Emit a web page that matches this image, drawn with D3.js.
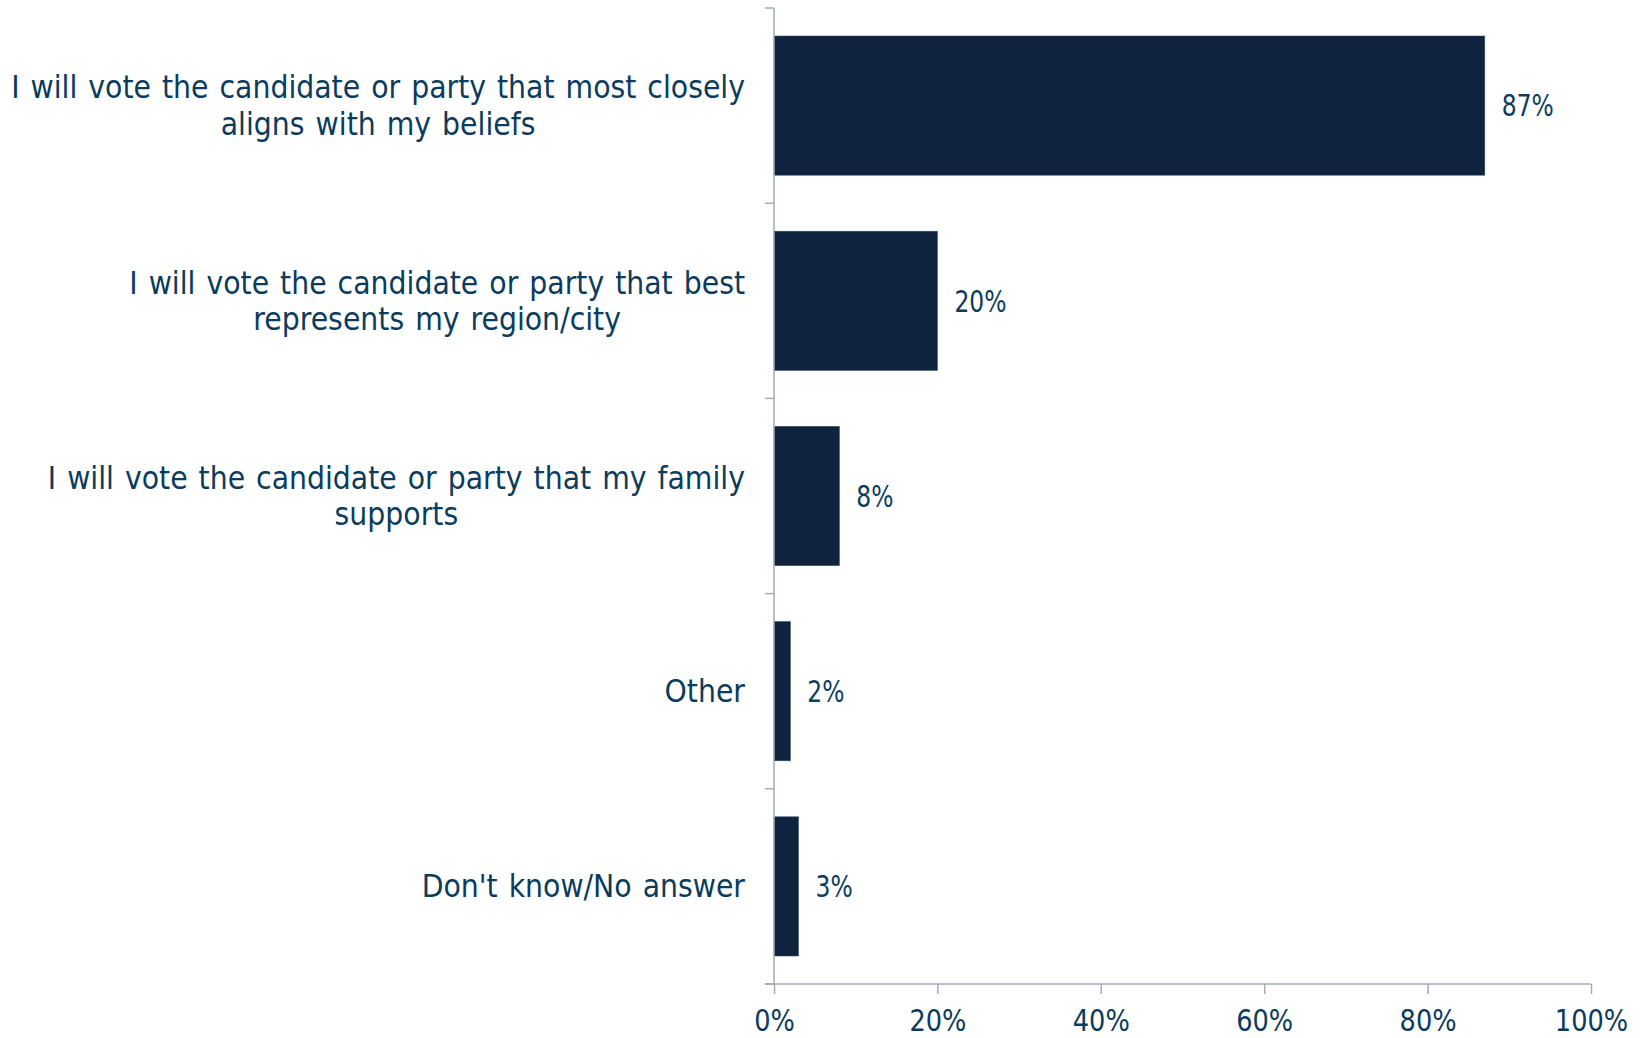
<!DOCTYPE html>
<html><head><meta charset="utf-8">
<script src="https://cdn.jsdelivr.net/npm/d3@7"></script>
<style>
html,body{margin:0;padding:0;background:#fff;}
svg{display:block;}
text{font-family:"DejaVu Sans Condensed","DejaVu Sans",sans-serif;fill:#0b3c5d;}
</style></head>
<body>
<svg id="chart" width="1642" height="1038"></svg>
<script>
const categories = [
  "I will vote the candidate or party that most closely\naligns with my beliefs",
  "I will vote the candidate or party that best\nrepresents my region/city",
  "I will vote the candidate or party that my family\nsupports",
  "Other",
  "Don't know/No answer"
];
const values = [87, 20, 8, 2, 3];
const xTicks = [0, 20, 40, 60, 80, 100];

const svg = d3.select("#chart");
const x = d3.scaleLinear().domain([0, 100]).range([774, 1591]);
const y = d3.scaleBand().domain(categories).range([8, 984]).paddingInner(0.287).paddingOuter(0.1435);
const axisColor = "#a3abb6";

// bars
svg.append("g").selectAll("rect").data(categories).join("rect")
  .attr("x", x(0))
  .attr("y", d => y(d))
  .attr("width", (d, i) => x(values[i]) - x(0))
  .attr("height", y.bandwidth())
  .attr("fill", "#0f233f")
  .attr("stroke", "#3a4c66").attr("stroke-width", 0.6);

// x axis
const xAxis = svg.append("g").attr("transform", `translate(0,${y.range()[1]})`)
  .call(d3.axisBottom(x).tickValues(xTicks).tickFormat(d => d + "%").tickSize(10).tickPadding(16).tickSizeOuter(0));
xAxis.select(".domain").remove();
xAxis.selectAll(".tick line").attr("stroke", axisColor).attr("stroke-width", 1.5);
xAxis.selectAll(".tick text").attr("font-size", 30).attr("font-family", null).attr("fill", "#0b3c5d")
  .attr("transform", "scale(0.95,1)");
svg.append("line").attr("x1", x(0) - 9).attr("x2", x(100)).attr("y1", y.range()[1]).attr("y2", y.range()[1])
  .attr("stroke", axisColor).attr("stroke-width", 1.5);

// y axis
svg.append("line").attr("x1", x(0)).attr("x2", x(0)).attr("y1", y.range()[0]).attr("y2", y.range()[1])
  .attr("stroke", axisColor).attr("stroke-width", 1.5);
const bounds = categories.map(c => y(c) - y.step() * y.paddingInner() / 2).concat([y.range()[1]]);
svg.append("g").selectAll("line").data(bounds).join("line")
  .attr("x1", x(0) - 9).attr("x2", x(0)).attr("y1", d => d).attr("y2", d => d)
  .attr("stroke", axisColor).attr("stroke-width", 1.5);

// category labels
const lineH = 36.6;
categories.forEach(c => {
  const lines = c.split("\n");
  const g = svg.append("g");
  const cy = y(c) + y.bandwidth() / 2;
  const texts = lines.map((l, i) => g.append("text")
    .attr("font-size", 31.5)
    .attr("word-spacing", 2)
    .attr("text-anchor", "middle")
    .attr("y", cy + (i - (lines.length - 1) / 2) * lineH)
    .attr("dy", "0.35em")
    .text(l));
  const maxW = d3.max(texts, t => t.node().getComputedTextLength());
  texts.forEach(t => t.attr("x", 745 - maxW / 2));
});

// value labels
svg.append("g").selectAll("text").data(categories).join("text")
  .attr("font-size", 31)
  .attr("transform", (d, i) => `translate(${x(values[i]) + 17},${y(d) + y.bandwidth() / 2}) scale(0.84,1)`)
  .attr("dy", "0.35em")
  .text((d, i) => values[i] + "%");
</script>
</body></html>
